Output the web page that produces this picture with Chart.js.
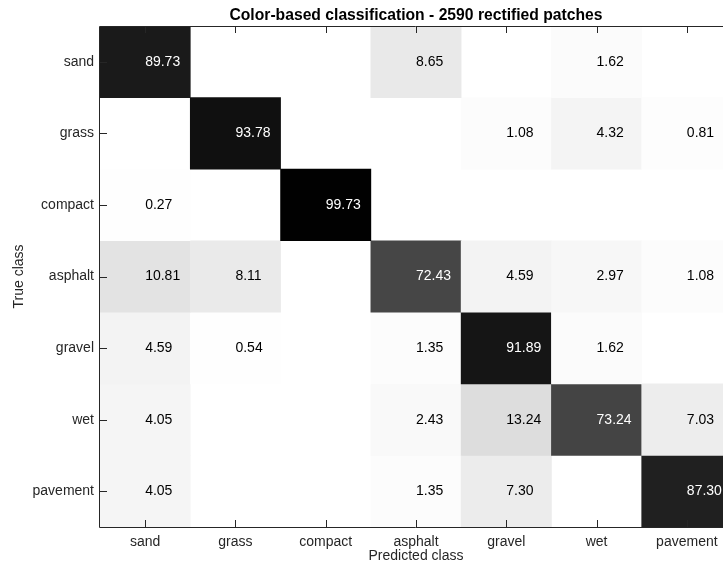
<!DOCTYPE html>
<html>
<head>
<meta charset="utf-8">
<script src="https://cdn.jsdelivr.net/npm/chart.js@4/dist/chart.umd.min.js"></script>
<style>
  html, body { margin: 0; padding: 0; background: #fff; overflow: hidden; }
  #wrap { width: 740px; height: 565px; }
</style>
</head>
<body>
<div id="wrap"><canvas id="cm" width="740" height="565"></canvas></div>
<script>
// Confusion matrix: rows are true classes, columns predicted classes (percent of row)
const trueClasses = ['sand', 'grass', 'compact', 'asphalt', 'gravel', 'wet', 'pavement'];
const predictedClasses = ['sand', 'grass', 'compact', 'asphalt', 'gravel', 'wet', 'pavement'];

const rowSand     = [89.73, 0,     0,     8.65,  0,     1.62,  0];
const rowGrass    = [0,     93.78, 0,     0,     1.08,  4.32,  0.81];
const rowCompact  = [0.27,  0,     99.73, 0,     0,     0,     0];
const rowAsphalt  = [10.81, 8.11,  0,     72.43, 4.59,  2.97,  1.08];
const rowGravel   = [4.59,  0.54,  0,     1.35,  91.89, 1.62,  0];
const rowWet      = [4.05,  0,     0,     2.43,  13.24, 73.24, 7.03];
const rowPavement = [4.05,  0,     0,     1.35,  7.30,  0,     87.30];

const matrix = [rowSand, rowGrass, rowCompact, rowAsphalt, rowGravel, rowWet, rowPavement];

const FONT = "'Liberation Sans', Arial, Helvetica, sans-serif";
const AXIS_COLOR = '#262626';

// inverted gray colormap: 0 -> white, 100 -> black
function grayFor(v) {
  const g = Math.round(255 * (1 - v / 100));
  return 'rgb(' + g + ',' + g + ',' + g + ')';
}

// one floating-bar dataset per true-class row; each bar spans one row of the matrix
const datasets = matrix.map((row, r) => ({
  label: trueClasses[r],
  data: row.map(v => (v > 0 ? [r - 0.5, r + 0.5] : null)),
  values: row,
  backgroundColor: row.map(v => grayFor(v)),
  borderWidth: 0,
  barPercentage: 1,
  categoryPercentage: 1,
  grouped: false
}));

// cell value labels, left-aligned at the cell centre
const cellLabels = {
  id: 'cellLabels',
  afterDatasetsDraw(chart) {
    const { ctx, scales: { x, y } } = chart;
    ctx.save();
    ctx.font = '14px ' + FONT;
    ctx.textAlign = 'left';
    ctx.textBaseline = 'middle';
    chart.data.datasets.forEach((ds, r) => {
      ds.values.forEach((v, c) => {
        if (v <= 0) return;
        ctx.fillStyle = v > 50 ? '#ffffff' : '#000000';
        ctx.fillText(v.toFixed(2), x.getPixelForValue(c), y.getPixelForValue(r));
      });
    });
    ctx.restore();
  }
};

// boxed axes with inward tick marks drawn on top of the cells
const boxAxes = {
  id: 'boxAxes',
  afterDraw(chart) {
    const { ctx, chartArea: a, scales: { x, y } } = chart;
    const tl = 7;
    ctx.save();
    ctx.strokeStyle = AXIS_COLOR;
    ctx.lineWidth = 1;
    ctx.beginPath();
    ctx.rect(a.left - 0.5, a.top + 0.5, a.right - a.left, a.bottom - a.top);
    x.ticks.forEach((t, i) => {
      const px = Math.round(x.getPixelForTick(i)) + 0.5;
      ctx.moveTo(px, a.bottom); ctx.lineTo(px, a.bottom - tl);
      ctx.moveTo(px, a.top); ctx.lineTo(px, a.top + tl);
    });
    y.ticks.forEach((t, i) => {
      const py = Math.round(y.getPixelForTick(i)) + 0.5;
      ctx.moveTo(a.left, py); ctx.lineTo(a.left + tl, py);
      ctx.moveTo(a.right, py); ctx.lineTo(a.right - tl, py);
    });
    ctx.stroke();
    ctx.restore();
  }
};

new Chart(document.getElementById('cm'), {
  type: 'bar',
  data: { labels: predictedClasses, datasets },
  plugins: [cellLabels, boxAxes],
  options: {
    responsive: false,
    animation: false,
    devicePixelRatio: 1,
    layout: { padding: { left: 0, right: 8, top: 0, bottom: 0 } },
    plugins: {
      legend: { display: false },
      tooltip: { enabled: false },
      title: {
        display: true,
        fullSize: false,
        text: 'Color-based classification - 2590 rectified patches',
        color: '#000',
        font: { family: FONT, size: 15.7, weight: 'bold', lineHeight: 1.2 },
        padding: { top: 6.1, bottom: 1.06 }
      }
    },
    scales: {
      x: {
        type: 'category',
        offset: true,
        grid: { display: false, drawTicks: false },
        border: { display: false },
        ticks: { color: AXIS_COLOR, font: { family: FONT, size: 14 }, padding: 7, autoSkip: false, maxRotation: 0 },
        title: {
          display: true,
          text: 'Predicted class',
          color: AXIS_COLOR,
          font: { family: FONT, size: 14, lineHeight: 1.2 },
          padding: { top: 0, bottom: 0 }
        },
        afterFit(s) { s.height = 38; }
      },
      y: {
        type: 'linear',
        reverse: true,
        min: -0.5,
        max: 6.5,
        grid: { display: false, drawTicks: false },
        border: { display: false },
        afterBuildTicks(s) { s.ticks = trueClasses.map((_, i) => ({ value: i })); },
        ticks: {
          color: AXIS_COLOR,
          font: { family: FONT, size: 14 },
          padding: 6,
          autoSkip: false,
          callback: v => trueClasses[v]
        },
        title: {
          display: true,
          text: 'True class',
          color: AXIS_COLOR,
          font: { family: FONT, size: 14, lineHeight: 1.2 },
          padding: { top: 10.4, bottom: 0 }
        },
        afterFit(s) { s.width = 100; }
      }
    }
  }
});
</script>
</body>
</html>
